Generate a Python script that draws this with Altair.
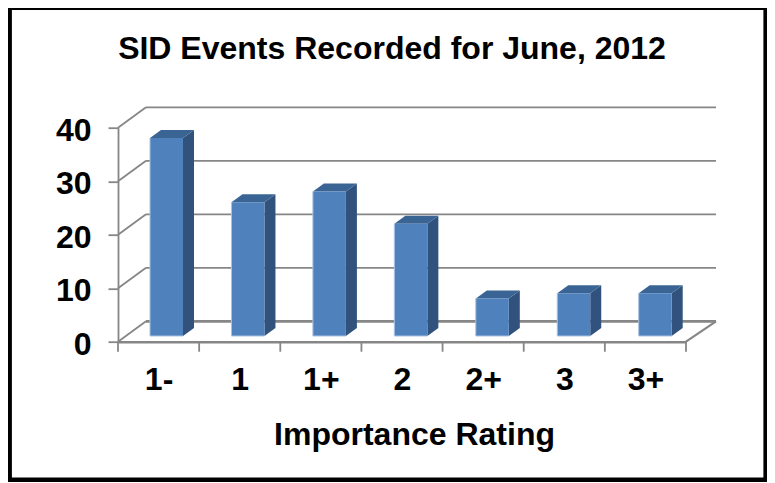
import altair as alt
import pandas as pd

categories = ["1-", "1", "1+", "2", "2+", "3", "3+"]
events = [37, 25, 27, 21, 7, 8, 8]
y_ticks = [0, 10, 20, 30, 40]
title_text = "SID Events Recorded for June, 2012"
axis_title = "Importance Rating"

# layout constants (page pixels, converted to scale units below)
L, T, W, H = 118.0, 127.7, 568.0, 214.0
SVG_W, SVG_H = 759, 474
UX = W / len(categories)
UY = H / 40.0
FONT = "Liberation Sans"
GRAY = "#868686"
FRONT, SIDE, TOP, EDGE = "#4F81BD", "#30527C", "#3A6494", "#A9C3E2"

def ux(px): return (px - L) / UX
def uy(px): return (T + H - px) / UY

BAR_LEFT = ux(150.0)
BAR_STEP = 81.45 / UX
BAR_W = 33.0 / UX
BAR_DX = 11.0 / UX
BAR_DY = 8.0 / UY
BAR_BASE = uy(336.0)
BACK_DY = 20.4 / UY
BACK_L, BACK_R = ux(146.0), ux(716.0)

xs = alt.Scale(domain=[0, len(categories)], nice=False, zero=False)
ys = alt.Scale(domain=[0, 40], nice=False, zero=False)
X = lambda f="x": alt.X(f"{f}:Q", scale=xs, axis=None, title=None)
Y = lambda f="y": alt.Y(f"{f}:Q", scale=ys, axis=None, title=None)

# walls and floor
wall = []
for v in y_ticks:
    wall.append(dict(x=0, x2=BACK_L, y=v, y2=v + BACK_DY, w=1.8))
    wall.append(dict(x=BACK_L, x2=BACK_R, y=v + BACK_DY, y2=v + BACK_DY, w=2.8 if v == 0 else 1.8))
wall.append(dict(x=len(categories), x2=BACK_R, y=0, y2=BACK_DY, w=2.2))
wall_df = pd.DataFrame(wall)
walls = alt.Chart(wall_df).mark_rule(color=GRAY).encode(
    x=X(), x2="x2:Q", y=Y(), y2="y2:Q",
    strokeWidth=alt.StrokeWidth("w:Q", scale=None),
)

# category tick marks under the floor
tick_df = pd.DataFrame({"x": list(range(len(categories) + 1))})
tick_df["y"] = 0.0
tick_df["y2"] = -10.0 / UY
ticks = alt.Chart(tick_df).mark_rule(color=GRAY, strokeWidth=1.8).encode(
    x=X(), y=Y(), y2="y2:Q"
)

# bars
front_rows, side_rows, top_rows = [], [], []
for i, v in enumerate(events):
    l = BAR_LEFT + i * BAR_STEP
    r = l + BAR_W
    b = BAR_BASE
    t = BAR_BASE + v
    front_rows.append(dict(x=l, x2=r, y=b, y2=t))
    side_rows += [dict(bar=i, x=r, y=b, y2=t), dict(bar=i, x=r + BAR_DX, y=b + BAR_DY, y2=t + BAR_DY)]
    top_rows += [
        dict(bar=i, x=l, y=t, y2=t),
        dict(bar=i, x=l + BAR_DX, y=t, y2=t + BAR_DY),
        dict(bar=i, x=r, y=t, y2=t + BAR_DY),
        dict(bar=i, x=r + BAR_DX, y=t + BAR_DY, y2=t + BAR_DY),
    ]
front_df = pd.DataFrame(front_rows)
front = alt.Chart(front_df).mark_rect(color=FRONT).encode(x=X(), x2="x2:Q", y=Y(), y2="y2:Q")
edge_l = alt.Chart(front_df).mark_rule(color=EDGE, strokeWidth=1).encode(x=X(), y=Y(), y2="y2:Q")
edge_b = alt.Chart(front_df).mark_rule(color=EDGE, strokeWidth=1).encode(x=X(), x2="x2:Q", y=Y())
side = alt.Chart(pd.DataFrame(side_rows)).mark_area(color=SIDE, interpolate="linear").encode(
    x=X(), y=Y(), y2="y2:Q", detail="bar:N")
top = alt.Chart(pd.DataFrame(top_rows)).mark_area(color=TOP, interpolate="linear").encode(
    x=X(), y=Y(), y2="y2:Q", detail="bar:N")

# axes: carried by an invisible layer of the category labels
label_df = pd.DataFrame({"x": [i + 0.5 for i in range(len(categories))], "y": [0.0] * len(categories)})
label_expr = "[" + ",".join(f"'{c}'" for c in categories) + "][floor(datum.value)]"
axes = alt.Chart(label_df).mark_point(opacity=0).encode(
    x=alt.X("x:Q", scale=xs, title=axis_title, axis=alt.Axis(
        values=label_df["x"].tolist(), labelExpr=label_expr, grid=False, ticks=False,
        domainColor=GRAY, domainWidth=2.6, labelFont=FONT, labelFontWeight="bold",
        labelFontSize=32, labelColor="black", labelPadding=23, labelFlush=False,
        labelOverlap=False, labelAngle=0, labelBaseline="top",
        titleFont=FONT, titleFontWeight="bold", titleFontSize=32, titleColor="black",
        titleX=296, titleY=93, titleAnchor="middle", titleBaseline="middle")),
    y=alt.Y("y:Q", scale=ys, title=None, axis=alt.Axis(
        values=y_ticks, grid=False, tickColor=GRAY, tickWidth=1.8, tickSize=10,
        domainColor=GRAY, domainWidth=1.8, labelFont=FONT, labelFontWeight="bold",
        labelFontSize=32, labelColor="black", labelPadding=17, labelFlush=False,
        labelOffset=2.5)),
)

# picture frame (the drawable page ends at x = 767)
frame_df = pd.DataFrame([dict(x=ux(9.6), x2=ux(765.7), y=uy(7.7), y2=uy(479.7))])
frame = alt.Chart(frame_df).mark_rect(fillOpacity=0, stroke="black", strokeWidth=4.6).encode(
    x=X(), x2="x2:Q", y=Y(), y2="y2:Q")

chart = alt.layer(walls, ticks, axes, side, top, front, edge_l, edge_b, frame).resolve_axis(
    x="independent", y="independent"
).properties(
    width=W, height=H,
    padding={"left": L - 8, "top": T - 8, "right": SVG_W - (L - 8) - W, "bottom": SVG_H - (T - 8) - H},
    autosize=alt.AutoSizeParams(type="none"),
    background="white",
    title=alt.TitleParams(title_text, font=FONT, fontWeight="bold", fontSize=32, color="black",
                          anchor="middle", dx=-10, offset=-61),
).configure_view(stroke=None)

chart.save("out.html", embed_options={"renderer": "svg", "actions": False})
